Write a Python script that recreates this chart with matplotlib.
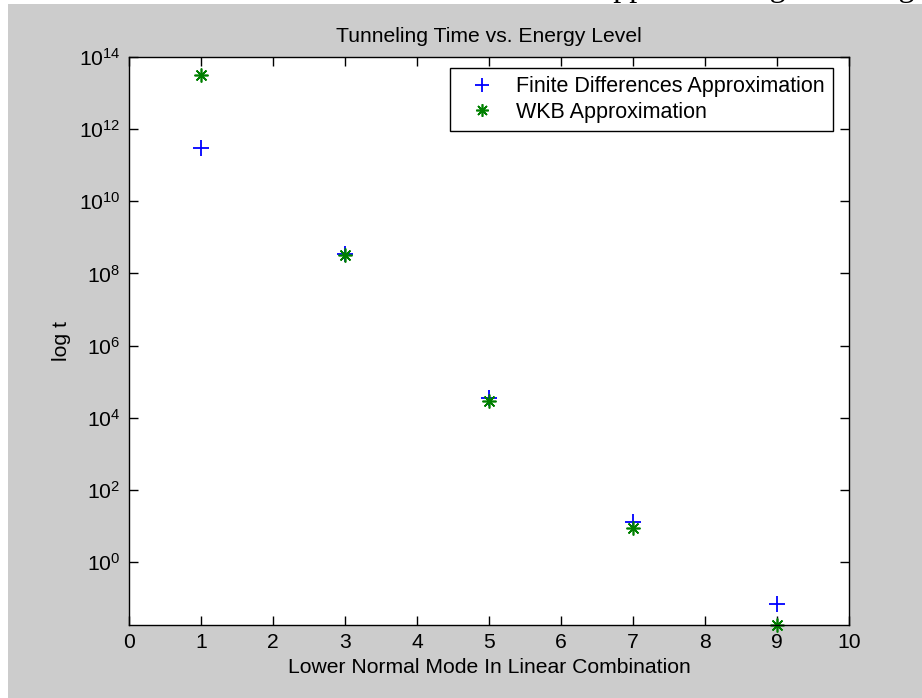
import numpy as np
import matplotlib.pyplot as plt
from matplotlib.patches import Rectangle
from matplotlib.ticker import FixedLocator, LogFormatterMathtext, NullLocator

plt.rcParams['font.family'] = ['Liberation Sans', 'DejaVu Sans']
plt.rcParams['mathtext.default'] = 'regular'

# tunneling times for the lower normal mode of each linear combination
modes = [1, 3, 5, 7, 9]
finite_diff = [3.0e11, 3.5e8, 3.4e4, 12.4, 0.069]
wkb = [3.1e13, 3.2e8, 2.9e4, 8.9, 0.0178]

title = "Tunneling Time vs. Energy Level"
xlabel = "Lower Normal Mode In Linear Combination"
ylabel = "log t"
labels = ["Finite Differences Approximation", "WKB Approximation"]
xticks = list(range(0, 11))
yticks = [10.0 ** k for k in range(0, 15, 2)]

W, H = 922, 698
FS = 15.2
fig = plt.figure(figsize=(W / 100, H / 100), dpi=100, facecolor="white")

# grey window frame behind the axes
frame = Rectangle((8 / W, 0), 1 - 8 / W, 1 - 4 / H, transform=fig.transFigure,
                  facecolor="#cccccc", edgecolor="none", zorder=-10)
fig.patches.append(frame)
# line of surrounding document text, mostly cut off at the top edge
fig.text(599 / W, 1 + 4 / H, "approximating tunneling", family="Liberation Serif",
         fontsize=23, ha="left", va="baseline", color="black")

ax = fig.add_axes([129 / W, 1 - 625 / H, 720 / W, 568 / H])
ax.set_facecolor("white")

ax.semilogy(modes, finite_diff, linestyle="none", marker="+", color="#0000ff",
            markersize=11, markeredgewidth=1.3, label=labels[0], clip_on=False)
ax.semilogy(modes, wkb, linestyle="none", marker=(8, 2, 0), color="#008000",
            markersize=10, markeredgewidth=1.2, label=labels[1], clip_on=False)

ax.set_xlim(0, 10)
ax.set_ylim(wkb[-1], 1e14)
ax.xaxis.set_major_locator(FixedLocator(xticks))
ax.yaxis.set_major_locator(FixedLocator(yticks))
ax.yaxis.set_major_formatter(LogFormatterMathtext())
ax.yaxis.set_minor_locator(NullLocator())

ax.tick_params(which="major", direction="in", length=6.5, width=1.0,
               top=True, right=True, labelsize=FS, colors="black", pad=6)
for s in ax.spines.values():
    s.set_linewidth(1.0)
    s.set_color("black")

ax.set_title(title, fontsize=FS, pad=11)
ax.set_xlabel(xlabel, fontsize=FS, labelpad=4)
ax.set_ylabel(ylabel, fontsize=FS, labelpad=6)

leg = ax.legend(loc="upper right", bbox_to_anchor=(0.978, 0.981), fontsize=15.5,
                frameon=True, fancybox=False, shadow=False, borderaxespad=0,
                handlelength=2.18, handletextpad=0.5, borderpad=0.4, labelspacing=0.2,
                markerscale=0.9)
leg.get_frame().set_edgecolor("black")
leg.get_frame().set_linewidth(1.0)
leg.get_frame().set_facecolor("white")
leg.get_frame().set_alpha(1.0)

fig.savefig("out.png", dpi=100, facecolor=fig.get_facecolor())
